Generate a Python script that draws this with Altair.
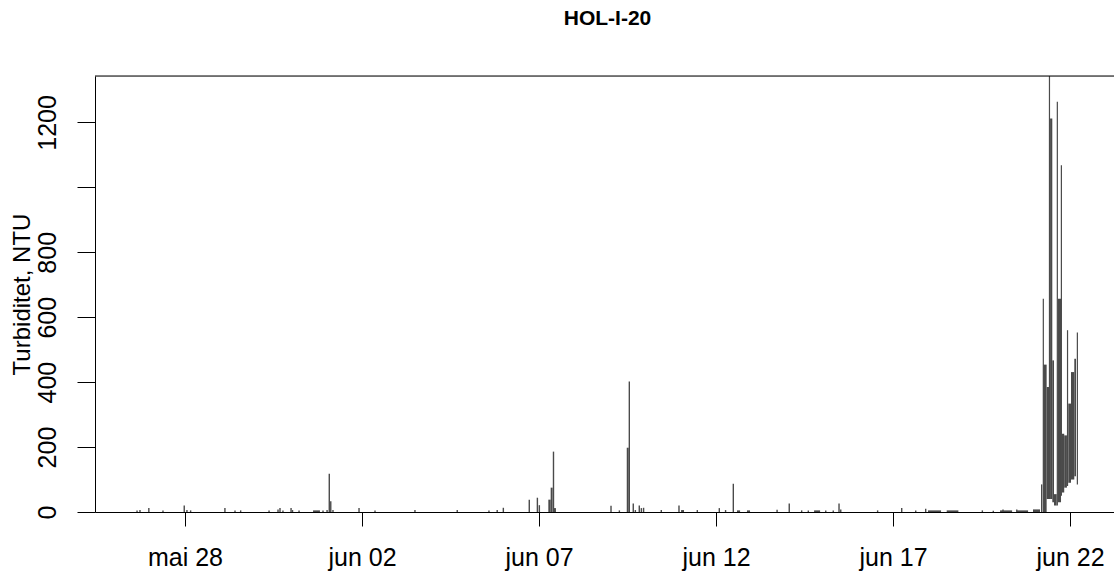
import altair as alt
import pandas as pd

# Isolated turbidity readings (NTU), drawn as vertical lines from zero
spike_time = [
    "2020-05-26 15:30", "2020-05-26 17:30", "2020-05-26 23:30", "2020-05-27 09:05",
    "2020-05-27 23:30", "2020-05-28 01:20", "2020-05-28 03:50", "2020-05-29 03:05",
    "2020-05-29 09:55", "2020-05-29 13:45", "2020-05-30 09:00", "2020-05-30 15:05",
    "2020-05-30 16:25", "2020-05-30 18:25", "2020-05-30 23:55", "2020-05-31 00:55",
    "2020-05-31 05:20", "2020-05-31 21:35", "2020-06-01 00:20", "2020-06-01 01:50",
    "2020-06-01 02:50", "2020-06-01 04:20", "2020-06-01 22:00", "2020-06-02 08:50",
    "2020-06-03 11:55", "2020-06-04 16:35", "2020-06-05 14:05", "2020-06-05 19:40",
    "2020-06-05 23:50", "2020-06-06 17:25", "2020-06-06 22:55", "2020-06-07 00:15",
    "2020-06-07 09:50", "2020-06-09 00:50", "2020-06-09 06:30", "2020-06-09 13:15",
    "2020-06-09 15:55", "2020-06-09 17:20", "2020-06-09 20:00", "2020-06-09 21:25",
    "2020-06-09 22:55", "2020-06-10 10:55", "2020-06-10 22:55", "2020-06-11 11:20",
    "2020-06-12 02:15", "2020-06-12 06:30", "2020-06-12 11:45", "2020-06-13 17:25",
    "2020-06-14 01:40", "2020-06-14 10:05", "2020-06-14 14:35", "2020-06-15 02:25",
    "2020-06-15 07:30", "2020-06-15 11:25", "2020-06-15 12:35", "2020-06-16 13:35",
    "2020-06-17 05:55", "2020-06-17 15:25", "2020-06-17 22:10", "2020-06-19 12:35",
    "2020-06-19 20:00", "2020-06-20 02:35", "2020-06-20 11:55",
]
spike_ntu = [
    5, 6, 12, 5,
    20, 6, 5, 12,
    5, 5, 5, 8,
    12, 5, 12, 6,
    5, 5, 6, 118,
    33, 6, 12, 5,
    6, 6, 5, 6,
    13, 38, 44, 21,
    186, 19, 5, 402,
    26, 6, 20, 12,
    13, 6, 20, 6,
    12, 6, 87, 7,
    26, 5, 5, 5,
    5, 26, 8, 5,
    12, 5, 10, 5,
    4, 8, 8,
]

# Single high readings inside the flood event, drawn from the surrounding level
peak_time = ["2020-06-21 05:55", "2020-06-21 10:05", "2020-06-21 15:25",
             "2020-06-21 18:10", "2020-06-21 22:20", "2020-06-22 05:00"]
peak_ntu = [657, 1343, 1264, 1068, 560, 553]
peak_from = [0, 40, 20, 50, 80, 85]

# Dense stretches of fluctuating readings: time span with low/high envelope
block_start = [
    "2020-05-31 14:50", "2020-06-07 06:20", "2020-06-07 07:55", "2020-06-07 10:10",
    "2020-06-09 11:30", "2020-06-11 00:20", "2020-06-12 14:15", "2020-06-12 21:00",
    "2020-06-14 18:30", "2020-06-17 23:45", "2020-06-18 12:25", "2020-06-20 00:35",
    "2020-06-20 12:05", "2020-06-20 22:55", "2020-06-21 04:20", "2020-06-21 05:55",
    "2020-06-21 08:10", "2020-06-21 10:30", "2020-06-21 12:00", "2020-06-21 13:10",
    "2020-06-21 15:40", "2020-06-21 18:20", "2020-06-21 20:05", "2020-06-21 22:50",
    "2020-06-22 00:40", "2020-06-22 02:55",
]
block_end = [
    "2020-05-31 19:30", "2020-06-07 07:55", "2020-06-07 09:15", "2020-06-07 11:30",
    "2020-06-09 12:50", "2020-06-11 02:20", "2020-06-12 16:20", "2020-06-12 23:05",
    "2020-06-14 22:35", "2020-06-18 08:35", "2020-06-18 20:20", "2020-06-20 08:45",
    "2020-06-20 19:35", "2020-06-21 03:40", "2020-06-21 05:15", "2020-06-21 08:10",
    "2020-06-21 09:45", "2020-06-21 12:00", "2020-06-21 13:10", "2020-06-21 15:00",
    "2020-06-21 17:55", "2020-06-21 20:05", "2020-06-21 21:55", "2020-06-22 00:40",
    "2020-06-22 02:55", "2020-06-22 04:05",
]
block_low = [0, 0, 0, 0, 0, 0, 0, 0, 0, 0, 0, 0, 0, 0, 0, 0,
             40, 40, 30, 20, 30, 60, 75, 90, 100, 110]
block_high = [5, 38, 75, 12, 198, 6, 5, 5, 5, 5, 5, 5, 5, 8, 85, 454,
              385, 1212, 467, 55, 657, 241, 236, 334, 431, 472]

y_ticks = [0, 200, 400, 600, 800, 1000, 1200]
x_ticks = [(5, 28), (6, 2), (6, 7), (6, 12), (6, 17), (6, 22)]
month_names = ["jan", "feb", "mar", "apr", "mai", "jun",
               "jul", "aug", "sep", "okt", "nov", "des"]

FONT = "Liberation Sans"
PLOT_W, PLOT_H = 1019, 436
INK = "#4a4a4a"

spikes = pd.DataFrame({"time": spike_time, "ntu": spike_ntu, "base": 0})
peaks = pd.DataFrame({"time": peak_time, "ntu": peak_ntu, "base": peak_from})
blocks = pd.DataFrame({"start": block_start, "end": block_end,
                       "low": block_low, "high": block_high})

x_scale = alt.Scale(domain=[
    alt.DateTime(year=2020, month=5, date=25, hours=11, minutes=0),
    alt.DateTime(year=2020, month=6, date=23, hours=5, minutes=50),
])
y_scale = alt.Scale(domain=[0, 1343], nice=False, zero=True)

month_js = "[" + ",".join(f"'{m}'" for m in month_names) + "]"
x_axis = alt.Axis(
    title="",
    values=[alt.DateTime(year=2020, month=m, date=d) for m, d in x_ticks],
    labelExpr=f"{month_js}[month(datum.value)] + ' ' + timeFormat(datum.value, '%d')",
    grid=False, domainColor="black", tickColor="black", tickSize=14,
    labelFont=FONT, labelFontSize=25, labelColor="black",
    labelBaseline="alphabetic", labelPadding=39,
    labelFlush=False, labelOverlap=False,
)
y_axis = alt.Axis(
    title="Turbiditet, NTU",
    values=y_ticks,
    labelExpr="datum.value == 1000 ? '' : format(datum.value, 'd')",
    grid=False, domainColor="black", tickColor="black", tickSize=18,
    labelFont=FONT, labelFontSize=25, labelColor="black",
    labelAngle=270, labelAlign="center", labelBaseline="alphabetic",
    labelPadding=22, labelFlush=False, labelOverlap=False,
    titleFont=FONT, titleFontSize=24, titleFontWeight="normal", titleColor="black",
    titleAngle=270, titleAlign="center", titleBaseline="middle",
    titleX=-73, titleY=PLOT_H / 2,
)

spike_layer = alt.Chart(spikes).mark_rule(color=INK, strokeWidth=1.4).encode(
    x=alt.X("time:T", scale=x_scale, axis=x_axis),
    y=alt.Y("ntu:Q", scale=y_scale, axis=y_axis),
    y2="base:Q",
)
peak_layer = alt.Chart(peaks).mark_rule(color=INK, strokeWidth=1.2).encode(
    x=alt.X("time:T", scale=x_scale, axis=x_axis),
    y=alt.Y("ntu:Q", scale=y_scale, axis=y_axis),
    y2="base:Q",
)
block_layer = alt.Chart(blocks).mark_bar(color=INK, strokeWidth=0).encode(
    x=alt.X("start:T", scale=x_scale, axis=x_axis),
    x2="end:T",
    y=alt.Y("high:Q", scale=y_scale, axis=y_axis),
    y2="low:Q",
)
# top edge of the plot frame
frame_top = alt.Chart(pd.DataFrame({"k": [0]})).mark_rule(
    color="black", strokeWidth=1
).encode(x=alt.value(0), x2=alt.value(PLOT_W), y=alt.value(0))

chart = alt.layer(block_layer, spike_layer, peak_layer, frame_top).properties(
    width=PLOT_W,
    height=PLOT_H,
    title=alt.TitleParams(
        "HOL-I-20", font=FONT, fontSize=21, fontWeight="bold", color="black",
        anchor="middle", frame="group", baseline="alphabetic", offset=29, dx=3,
    ),
    padding={"left": 95, "top": 76, "right": 0, "bottom": 59},
    autosize=alt.AutoSizeParams(type="none"),
).configure_view(stroke="transparent").configure(background="white")

chart.save("out.html", embed_options={"renderer": "svg", "actions": False})
